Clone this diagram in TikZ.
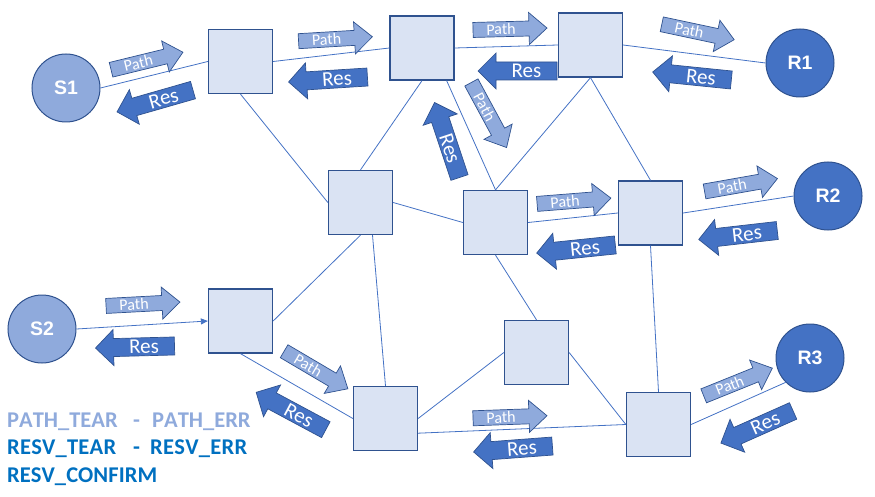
\documentclass[tikz,border=0pt]{standalone}
\usepackage{fontspec}
\setmainfont{Carlito}
\newfontfamily\labelfont{Liberation Sans}
\usetikzlibrary{arrows.meta,calc}
\definecolor{lightblue}{HTML}{8FAADC}
\definecolor{midblue}{HTML}{4472C4}
\definecolor{darkline}{HTML}{2F528F}
\definecolor{boxfill}{HTML}{DAE3F3}
\definecolor{legendblue}{HTML}{0070C0}
\tikzset{
  box/.style={draw=darkline, fill=boxfill, line width=1.3pt, minimum size=64pt, inner sep=0pt},
  src/.style={circle, draw=darkline, fill=lightblue, line width=1pt, minimum size=68pt, inner sep=0pt, font=\labelfont\bfseries\fontsize{19.5}{19.5}\selectfont, text=white},
  rcv/.style={src, fill=midblue},
  link/.style={draw=midblue, line width=0.8pt},
  pathshape/.style={fill=lightblue, draw=darkline, line width=0.7pt},
  resshape/.style={fill=midblue, draw=darkline, line width=0.7pt},
  pathtext/.style={text=white, font=\fontsize{16}{16}\selectfont, inner sep=0pt},
  restext/.style={text=white, font=\fontsize{21}{21}\selectfont, inner sep=0pt},
  legendtext/.style={anchor=base west, inner sep=0pt, font=\bfseries\fontsize{22.5}{22.5}\selectfont},
}
% block arrow pointing along the angle (tail -> tip)
\newcommand{\PathArrow}[4]{%
  \begin{scope}[shift={(#2,#3)}, rotate=#4]
    \filldraw[pathshape] (-37,-7.5) -- (19,-7.5) -- (19,-16) -- (37,0) -- (19,16) -- (19,7.5) -- (-37,7.5) -- cycle;
    \node[pathtext, rotate=#4] (#1) at (-9,0) {Path};
  \end{scope}
}
% block arrow whose tip is on the side opposite to the angle
\newcommand{\ResArrow}[4]{%
  \begin{scope}[shift={(#2,#3)}, rotate=#4]
    \filldraw[resshape] (39.5,-9) -- (-21.5,-9) -- (-21.5,-18) -- (-39.5,0) -- (-21.5,18) -- (-21.5,9) -- (39.5,9) -- cycle;
    \node[restext, rotate=#4] (#1) at (9,0) {Res};
  \end{scope}
}
\begin{document}
\begin{tikzpicture}[x=1pt,y=-1pt]
\useasboundingbox (0,0) rectangle (875,497);

% routers
\node[box] (A) at (240.5,61.5) {};
\node[box] (B) at (422,48) {};
\node[box] (C) at (590.5,45) {};
\node[box] (D) at (650.5,213) {};
\node[box] (E) at (360.5,202.5) {};
\node[box] (F) at (495.5,222.5) {};
\node[box] (G) at (240.5,321) {};
\node[box] (H) at (385.5,418.5) {};
\node[box] (I) at (536.5,352.5) {};
\node[box] (J) at (658.5,424.5) {};

% end hosts
\node[src] (S1) at (66,88) {S1};
\node[src] (S2) at (42,329) {S2};
\node[rcv] (R1) at (800,63) {R1};
\node[rcv] (R2) at (828,196) {R2};
\node[rcv] (R3) at (810,358) {R3};

% links
\draw[link] (S1.east) -- (A.west);
\draw[link] (A.east) -- (B.west);
\draw[link] (B.east) -- (C.west);
\draw[link] (C.east) -- (R1.west);
\draw[link] (A.south) -- (E.west);
\draw[link] (B.south) -- (E.north);
\draw[link] ([xshift=-8pt]B.south east) -- (F.north);
\draw[link] (C.south) -- (F.north);
\draw[link] (C.south) -- (D.north);
\draw[link] (E.east) -- (F.west);
\draw[link] (F.east) -- (D.west);
\draw[link] (D.east) -- (R2.west);
\draw[link] (E.south) -- (G.east);
\draw[link] ([xshift=12pt]E.south) -- (H.north);
\draw[link, -{Triangle[length=7pt,width=6pt]}] (S2.east) -- (G.west);
\draw[link] (G.south) -- (H.west);
\draw[link] (H.east) -- (I.west);
\draw[link] ($(H.east)!0.45!(H.south east)$) -- (J.west);
\draw[link] (F.south) -- (I.north);
\draw[link] (I.east) -- (J.west);
\draw[link] (D.south) -- (J.north);
\draw[link] (J.east) -- (R3.south west);

% Path messages
\PathArrow{p1}{147}{61}{13.7}
\PathArrow{p2}{335.5}{39}{3.4}
\PathArrow{p3}{510}{29}{1.5}
\PathArrow{p4}{698}{32}{-12}
\PathArrow{p5}{489}{115}{-61.6}
\PathArrow{p6}{574}{201}{4.5}
\PathArrow{p7}{741}{185}{10}
\PathArrow{p8}{143}{304}{3}
\PathArrow{p9}{316}{370}{-30.5}
\PathArrow{p10}{510}{417}{2}
\PathArrow{p11}{738}{382}{22}

% Res messages
\ResArrow{r1}{155}{101}{16}
\ResArrow{r2}{328}{79.5}{3.6}
\ResArrow{r3}{517.5}{71}{0}
\ResArrow{r4}{692}{76}{-5.8}
\ResArrow{r5}{447}{140}{-71.6}
\ResArrow{r6}{576}{249}{5.9}
\ResArrow{r7}{738}{235}{6.5}
\ResArrow{r8}{135}{347}{1.5}
\ResArrow{r9}{291}{411}{-28.2}
\ResArrow{r10}{513}{449}{4.3}
\ResArrow{r11}{757}{427}{24}

% legend
\node[legendtext, text=lightblue] (l1) at (7,427) {\makebox[109pt][s]{P\hfill A\hfill T\hfill H\hfill\_\hfill T\hfill E\hfill A\hfill R}\hspace{17pt}\makebox[19pt][l]{-}\makebox[96pt][s]{P\hfill A\hfill T\hfill H\hfill\_\hfill E\hfill R\hfill R}};
\node[legendtext, text=legendblue] (l2) at (7,454) {\makebox[109pt][s]{R\hfill E\hfill S\hfill V\hfill\_\hfill T\hfill E\hfill A\hfill R}\hspace{17pt}\makebox[17pt][l]{-}\makebox[97pt][s]{R\hfill E\hfill S\hfill V\hfill\_\hfill E\hfill R\hfill R}};
\node[legendtext, text=legendblue] (l3) at (7,482) {\makebox[150pt][s]{R\hfill E\hfill S\hfill V\hfill\_\hfill C\hfill O\hfill N\hfill F\hfill I\hfill R\hfill M}};
\end{tikzpicture}
\end{document}
